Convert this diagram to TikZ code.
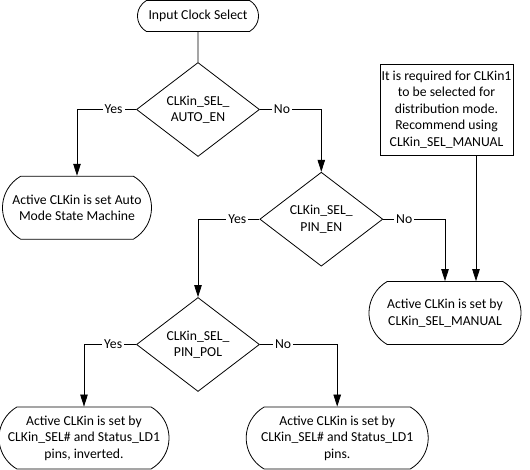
\documentclass[tikz,border=0pt]{standalone}
\usepackage{fontspec}
\setmainfont{Carlito}
\usetikzlibrary{arrows.meta, positioning, calc, shapes.geometric, shapes.misc}

\begin{document}
\begin{tikzpicture}[
    x=1pt, y=1pt,
    every node/.style={font=\fontsize{13.7}{16.5}\selectfont, align=center}, % 统一字体
    term/.style={draw, line width=0.8pt, rounded rectangle, rounded rectangle arc length=120, inner sep=1pt}, % 圆端框
    decision/.style={draw, line width=0.8pt, diamond, aspect=1.3, inner sep=0pt, minimum width=123pt, minimum height=94pt}, % 判断菱形
    remark/.style={draw, line width=0.8pt, rectangle, inner sep=1pt, minimum width=133pt, minimum height=91pt}, % 说明框
    conn/.style={black, line width=0.8pt}, % 连线
    flow/.style={conn, -{Triangle[width=7.5pt, length=12pt]}}, % 带箭头连线
    lbl/.style={fill=white, inner sep=2pt} % Yes/No 标签
]
    \useasboundingbox (0,0) rectangle (530,470);

    % 1. 起点与第一个判断
    \node[term, minimum width=123pt, minimum height=31pt] (start) at (198,454) {Input Clock Select};
    \node[decision] (autoen) at (198,360.5) {CLKin\_SEL\_\\AUTO\_EN};
    \node[term, minimum width=151pt, minimum height=63pt] (automode) at (77,262.3) {Active CLKin is set Auto\\Mode State Machine};

    % 2. 第二个判断与手动选择
    \node[decision] (pinen) at (321.3,250.8) {CLKin\_SEL\_\\PIN\_EN};
    \node[remark] (req) at (446.5,360.5) {It is required for CLKin1\\to be selected for\\distribution mode.\\Recommend using\\CLKin\_SEL\_MANUAL};
    \node[term, minimum width=154pt, minimum height=63pt] (manual) at (445,157) {Active CLKin is set by\\CLKin\_SEL\_MANUAL};

    % 3. 第三个判断与两个结果
    \node[decision] (pinpol) at (198,125.5) {CLKin\_SEL\_\\PIN\_POL};
    \node[term, minimum width=166pt, minimum height=62pt] (inverted) at (84,32) {Active CLKin is set by\\CLKin\_SEL\# and Status\_LD1\\pins, inverted.};
    \node[term, minimum width=184pt, minimum height=62pt] (pins) at (337.2,32) {Active CLKin is set by\\CLKin\_SEL\# and Status\_LD1\\pins.};

    % 4. 连线
    \draw[conn] (start) -- (autoen);
    \draw[flow] (autoen.west) -| node[lbl, pos=0.19] {Yes} (automode.north);
    \draw[flow] (autoen.east) -| node[lbl, pos=0.18] {No} (pinen.north);
    \draw[flow] (pinen.west) -| node[lbl, pos=0.18] {Yes} (pinpol.north);
    \draw[flow] (pinen.east) -| node[lbl, pos=0.17] {No} (manual.north);
    \draw[flow] ([xshift=29.5pt]req.south) -- ([xshift=29.5pt]req.south |- manual.north);
    \draw[flow] (pinpol.west) -| node[lbl, pos=0.22] {Yes} (inverted.north);
    \draw[flow] (pinpol.east) -| node[lbl, pos=0.15] {No} (pins.north);

\end{tikzpicture}
\end{document}
